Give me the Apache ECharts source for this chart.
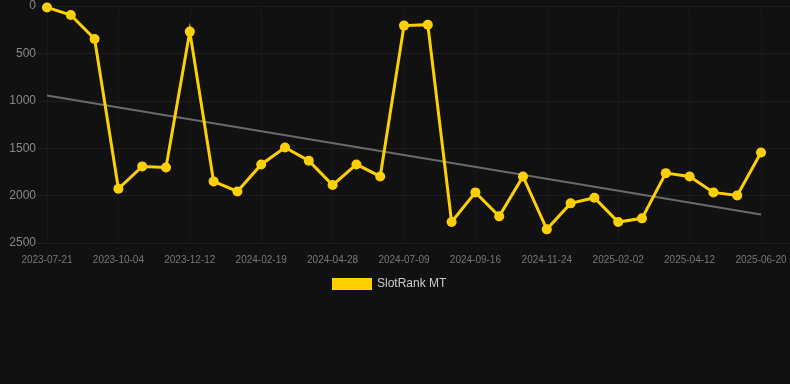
<!DOCTYPE html>
<html>
<head>
<meta charset="utf-8">
<script src="https://cdn.jsdelivr.net/npm/echarts@6/dist/echarts.min.js"></script>
<style>
  html, body { margin: 0; padding: 0; background: #111111; }
  #chart-container { width: 790px; height: 384px; }
</style>
</head>
<body>
<div id="chart-container"></div>
<script>
// rank per snapshot (lower is better, axis is inverted)
const dates = [
    "2023-07-21", "2023-08-15", "2023-09-09", "2023-10-04", "2023-10-27", "2023-11-19",
    "2023-12-12", "2024-01-04", "2024-01-27", "2024-02-19", "2024-03-13", "2024-04-05",
    "2024-04-28", "2024-05-22", "2024-06-15", "2024-07-09", "2024-08-01", "2024-08-24",
    "2024-09-16", "2024-10-09", "2024-11-01", "2024-11-24", "2024-12-17", "2025-01-09",
    "2025-02-02", "2025-02-25", "2025-03-20", "2025-04-12", "2025-05-05", "2025-05-28",
    "2025-06-20"
];
const rankValues = [
    15, 95, 348, 1928, 1692, 1703,
    270, 1850, 1956, 1671, 1492, 1633,
    1889, 1671, 1798, 207, 197, 2279,
    1966, 2219, 1798, 2356, 2082, 2022,
    2279, 2240, 1763, 1798, 1966, 1998,
    1545
];
// trend line end points
const trendValues = [945, 2200];
const yTicks = { min: 0, max: 2500, step: 500 };

const chartDom = document.getElementById("chart-container");
const myChart = echarts.init(chartDom, null, { renderer: "canvas" });

const option = {
    backgroundColor: "#111111",
    animation: false,
    textStyle: { fontFamily: "Liberation Sans, Arial, sans-serif" },
    legend: {
        data: ["SlotRank MT"],
        left: 327,
        top: 273,
        icon: "rect",
        itemWidth: 40,
        itemHeight: 12,
        itemGap: 10,
        textStyle: { color: "#cccccc", fontSize: 12 }
    },
    grid: [
        // wide grid just for the horizontal guide lines and y labels
        { left: 37, right: 0, top: 6, bottom: 141 },
        { left: 47, right: 29, top: 6, bottom: 141 }
    ],
    xAxis: [
        { type: "value", gridIndex: 0, show: false, min: 0, max: 1 },
        {
            type: "category",
            gridIndex: 1,
            data: dates,
            boundaryGap: false,
            axisLine: { show: false },
            axisTick: {
                show: true,
                interval: 2,
                length: 5,
                lineStyle: { color: "#1c1c1c" }
            },
            axisLabel: {
                interval: 2,
                color: "#777777",
                fontSize: 10,
                margin: 12
            },
            splitLine: {
                show: true,
                interval: 2,
                lineStyle: { color: "#181818", width: 1 }
            }
        }
    ],
    yAxis: [
        {
            type: "value",
            gridIndex: 0,
            inverse: true,
            min: yTicks.min,
            max: yTicks.max,
            interval: yTicks.step,
            axisLine: { show: false },
            axisTick: { show: false },
            axisLabel: {
                color: "#888888",
                fontSize: 12,
                margin: 1,
                formatter: (v) => String(v)
            },
            splitLine: { lineStyle: { color: "#1d1d1d", width: 1 } }
        },
        {
            type: "value",
            gridIndex: 1,
            inverse: true,
            min: yTicks.min,
            max: yTicks.max,
            interval: yTicks.step,
            show: false,
            splitLine: { show: false }
        }
    ],
    series: [
        {
            name: "Trend",
            type: "line",
            xAxisIndex: 1,
            yAxisIndex: 1,
            data: [[dates[0], trendValues[0]], [dates[dates.length - 1], trendValues[1]]],
            showSymbol: false,
            silent: true,
            lineStyle: { color: "#6a6a6a", width: 2 },
            itemStyle: { color: "#6a6a6a" },
            z: 1
        },
        {
            name: "SlotRank MT",
            type: "line",
            xAxisIndex: 1,
            yAxisIndex: 1,
            data: rankValues,
            symbol: "circle",
            symbolSize: 10,
            showAllSymbol: true,
            color: "#ffd000",
            lineStyle: { color: "#ffd000", width: 3, join: "miter", miterLimit: 20 },
            itemStyle: { color: "#ffd000" },
            z: 3
        }
    ]
};

option && myChart.setOption(option);
</script>
</body>
</html>
